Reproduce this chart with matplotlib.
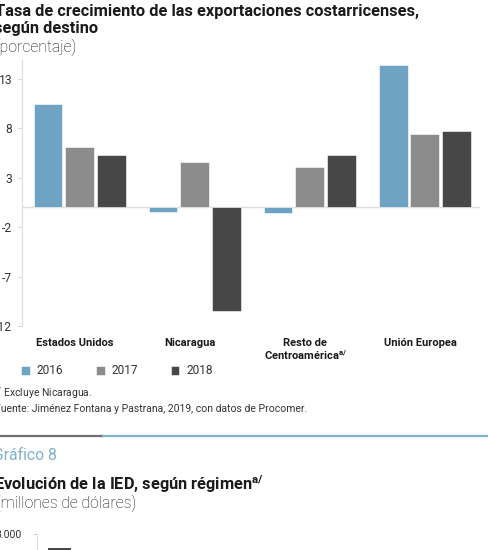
import matplotlib
matplotlib.use("Agg")
import matplotlib.pyplot as plt
import numpy as np

# Data
destinos = ["Estados Unidos", "Nicaragua", "Resto de\nCentroamérica$^{\\mathbf{a/}}$", "Unión Europea"]
anios = ["2016", "2017", "2018"]
tasa_2016 = [10.5, -0.5, -0.6, 14.4]
tasa_2017 = [6.1, 4.6, 4.1, 7.4]
tasa_2018 = [5.3, -10.5, 5.3, 7.7]
y_ticks = [13, 8, 3, -2, -7, -12]

# Start of the next chart (only its top edge is visible)
ied_ticks = [3000]
ied_primer_valor = [2830]

colores = ["#6fa3c3", "#8c8c8c", "#474747"]
W, H = 489, 550

plt.rcParams["font.family"] = ["Roboto", "DejaVu Sans"]
plt.rcParams["mathtext.fontset"] = "custom"
plt.rcParams["mathtext.rm"] = "Roboto"
plt.rcParams["mathtext.bf"] = "Roboto:bold"


def fx(px):
    return px / W


def fy(py):
    return 1 - py / H


fig = plt.figure(figsize=(W / 100, H / 100), dpi=100)

# Titles
txt = "#1a1a1a"
fig.text(fx(-5), fy(16), "Tasa de crecimiento de las exportaciones costarricenses,",
         fontsize=11.8, weight="bold", color=txt, va="baseline")
fig.text(fx(-6), fy(33.5), "según destino", fontsize=11.8, weight="bold", color=txt, va="baseline")
fig.text(fx(-4), fy(52), "(porcentaje)", fontsize=11.3, weight="light", color="#111111", va="baseline")

# Main bar chart
ax = fig.add_axes([fx(22), fy(326), fx(480) - fx(22), fy(60) - fy(326)])
x = np.arange(len(destinos))
w = 0.25
step = 0.275
series = [tasa_2016, tasa_2017, tasa_2018]
for i, (vals, lab, col) in enumerate(zip(series, anios, colores)):
    ax.bar(x + (i - 1) * step, vals, width=w, color=col, label=lab, edgecolor="white", linewidth=0.4, zorder=3)

ax.axhline(0, color="#dddddd", linewidth=1, zorder=2)
ax.set_xlim(-0.5, 3.48)
ax.set_ylim(-12, 14.9)
ax.set_yticks(y_ticks)
ax.set_yticklabels([str(t) for t in y_ticks])
ax.tick_params(axis="y", length=3, width=0.6, color="#cccccc", labelsize=8.7, labelcolor="#333333", pad=4)
ax.set_xticks(x - 0.04)
ax.set_xticklabels(destinos, fontsize=8, weight="bold", color=txt, va="top", linespacing=1.0)
ax.tick_params(axis="x", length=0, pad=9)
for s in ["top", "right", "bottom"]:
    ax.spines[s].set_visible(False)
ax.spines["left"].set_color("#dddddd")
ax.spines["left"].set_linewidth(0.8)

leg = fig.legend(loc="center left", bbox_to_anchor=(fx(10), fy(371)), ncol=3, frameon=False,
                 fontsize=8.6, handlelength=0.75, handleheight=0.75, handletextpad=0.6,
                 columnspacing=2.7, labelcolor="#333333")

# Notes
fig.text(fx(-7), fy(397), "$^{a/}$ Excluye Nicaragua.", fontsize=7.5,
         color="#333333", va="baseline")
fig.text(fx(-5), fy(412), "Fuente: Jiménez Fontana y Pastrana, 2019, con datos de Procomer.",
         fontsize=7.5, color="#333333", va="baseline")

# Separator rule
fig.add_artist(plt.Line2D([0, fx(103)], [fy(436), fy(436)], color="#6e6e6e", linewidth=1.6))
fig.add_artist(plt.Line2D([fx(103), 1], [fy(436), fy(436)], color="#7fb0cc", linewidth=1.6))

# Next chart header
fig.text(fx(-7), fy(460), "Gráfico 8", fontsize=11.3, color="#7fb0cc", va="baseline")
fig.text(fx(-6), fy(490), "Evolución de la IED, según régimen$^{\\mathbf{a/}}$",
         fontsize=11.8, weight="bold", color=txt, va="baseline")
fig.text(fx(-4), fy(508.5), "(millones de dólares)", fontsize=11.3, weight="light",
         color="#111111", va="baseline")

# Next chart axes, mostly below the visible area
ax2 = fig.add_axes([fx(37), fy(784), fx(480) - fx(37), fy(534) - fy(784)])
ax2.bar([0], ied_primer_valor, width=0.6, color="#474747", zorder=3)
ax2.set_xlim(-0.6, 11)
ax2.set_ylim(0, 3000)
ax2.set_yticks(ied_ticks)
ax2.set_yticklabels(["3.000"])
ax2.tick_params(axis="y", length=3, width=0.6, color="#cccccc", labelsize=7.5, labelcolor="#333333", pad=8)
ax2.set_xticks([])
for s in ["top", "right", "bottom"]:
    ax2.spines[s].set_visible(False)
ax2.spines["left"].set_color("#dddddd")
ax2.spines["left"].set_linewidth(0.8)

fig.savefig("out.png", dpi=100)
